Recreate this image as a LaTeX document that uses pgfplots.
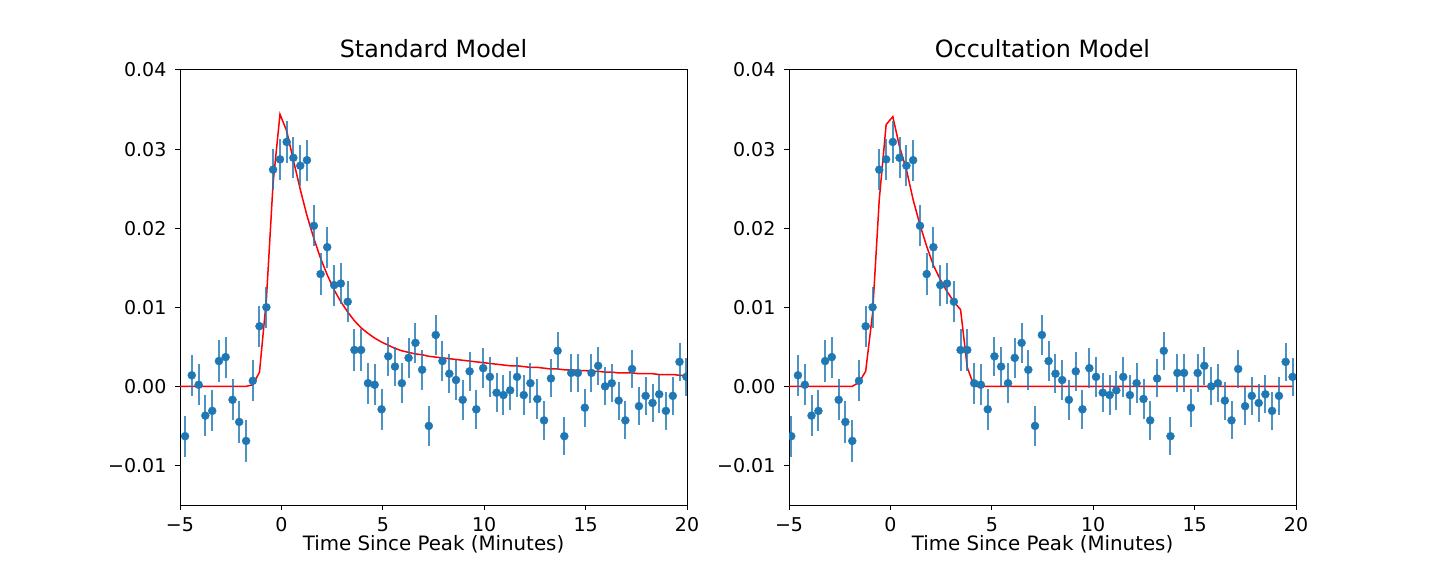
\documentclass[border=0pt]{standalone}
\usepackage{fontspec}
\setmainfont{DejaVu Sans}
\usepackage{pgfplots}
\pgfplotsset{compat=1.18}
\usepackage{pgfplotstable}
\definecolor{mplblue}{HTML}{1F77B4}

% x: time in standard panel, xr: time in occultation panel
% y, e: flux and error; ms: standard model; mo: occultation model
\pgfplotstableread{
x      xr     y        e       ms      mo
-5.08  -5.22  -0.0066  0.0026  0.0000  0.0000
-4.75  -4.89  -0.0063  0.0026  0.0000  0.0000
-4.42  -4.56   0.0014  0.0026  0.0000  0.0000
-4.08  -4.22   0.0002  0.0026  0.0000  0.0000
-3.75  -3.89  -0.0037  0.0026  0.0000  0.0000
-3.41  -3.55  -0.0031  0.0026  0.0000  0.0000
-3.08  -3.22   0.0032  0.0026  0.0000  0.0000
-2.75  -2.89   0.0037  0.0026  0.0000  0.0000
-2.41  -2.55  -0.0017  0.0026  0.0000  0.0000
-2.08  -2.22  -0.0045  0.0026  0.0000  0.0000
-1.74  -1.88  -0.0069  0.0026  0.0000  0.0000
-1.41  -1.55   0.0007  0.0026  0.0002  0.0005
-1.08  -1.22   0.0076  0.0026  0.0018  0.0019
-0.74  -0.88   0.0100  0.0026  0.0110  0.0092
-0.41  -0.55   0.0274  0.0026  0.0257  0.0236
-0.07  -0.21   0.0287  0.0026  0.0344  0.0331
 0.26   0.12   0.0309  0.0026  0.0323  0.0341
 0.59   0.45   0.0289  0.0026  0.0286  0.0303
 0.93   0.79   0.0279  0.0026  0.0249  0.0274
 1.26   1.12   0.0286  0.0026  0.0216  0.0236
 1.60   1.46   0.0203  0.0026  0.0187  0.0204
 1.93   1.79   0.0142  0.0026  0.0162  0.0177
 2.26   2.12   0.0176  0.0026  0.0141  0.0153
 2.60   2.46   0.0128  0.0026  0.0122  0.0135
 2.93   2.79   0.0130  0.0026  0.0107  0.0120
 3.27   3.13   0.0107  0.0026  0.0094  0.0107
 3.60   3.46   0.0046  0.0026  0.0083  0.0097
 3.93   3.79   0.0046  0.0026  0.0074  0.0024
 4.27   4.13   0.0004  0.0026  0.0067  0.0000
 4.60   4.46   0.0002  0.0026  0.0061  0.0000
 4.94   4.80  -0.0029  0.0026  0.0056  0.0000
 5.27   5.13   0.0038  0.0025  0.0052  0.0000
 5.60   5.46   0.0025  0.0025  0.0048  0.0000
 5.94   5.80   0.0004  0.0025  0.0045  0.0000
 6.27   6.13   0.0036  0.0025  0.0043  0.0000
 6.61   6.47   0.0055  0.0025  0.0041  0.0000
 6.94   6.80   0.0021  0.0025  0.0040  0.0000
 7.27   7.13  -0.0050  0.0025  0.0038  0.0000
 7.61   7.47   0.0065  0.0025  0.0037  0.0000
 7.94   7.80   0.0032  0.0025  0.0036  0.0000
 8.28   8.14   0.0016  0.0025  0.0035  0.0000
 8.61   8.47   0.0008  0.0025  0.0034  0.0000
 8.94   8.80  -0.0017  0.0025  0.0033  0.0000
 9.28   9.14   0.0019  0.0025  0.0032  0.0000
 9.61   9.47  -0.0029  0.0025  0.0031  0.0000
 9.95   9.81   0.0023  0.0025  0.0030  0.0000
10.28  10.14   0.0012  0.0025  0.0029  0.0000
10.61  10.47  -0.0008  0.0025  0.0028  0.0000
10.95  10.81  -0.0011  0.0025  0.0027  0.0000
11.28  11.14  -0.0005  0.0025  0.0026  0.0000
11.62  11.48   0.0012  0.0025  0.0026  0.0000
11.95  11.81  -0.0011  0.0025  0.0025  0.0000
12.28  12.14   0.0004  0.0025  0.0024  0.0000
12.62  12.48  -0.0016  0.0025  0.0024  0.0000
12.95  12.81  -0.0043  0.0025  0.0023  0.0000
13.29  13.15   0.0010  0.0024  0.0022  0.0000
13.62  13.48   0.0045  0.0024  0.0022  0.0000
13.95  13.81  -0.0063  0.0024  0.0021  0.0000
14.29  14.15   0.0017  0.0024  0.0021  0.0000
14.62  14.48   0.0017  0.0024  0.0020  0.0000
14.96  14.82  -0.0027  0.0024  0.0020  0.0000
15.29  15.15   0.0017  0.0024  0.0019  0.0000
15.62  15.48   0.0026  0.0024  0.0019  0.0000
15.96  15.82   0.0000  0.0024  0.0018  0.0000
16.29  16.15   0.0004  0.0024  0.0018  0.0000
16.63  16.49  -0.0018  0.0024  0.0017  0.0000
16.96  16.82  -0.0043  0.0024  0.0017  0.0000
17.29  17.15   0.0022  0.0024  0.0017  0.0000
17.63  17.49  -0.0025  0.0024  0.0016  0.0000
17.96  17.82  -0.0012  0.0024  0.0016  0.0000
18.30  18.16  -0.0021  0.0024  0.0016  0.0000
18.63  18.49  -0.0010  0.0024  0.0015  0.0000
18.96  18.82  -0.0031  0.0024  0.0015  0.0000
19.30  19.16  -0.0012  0.0024  0.0015  0.0000
19.63  19.49   0.0031  0.0024  0.0014  0.0000
19.97  19.83   0.0012  0.0024  0.0014  0.0000
}\flare

\begin{document}
\fontsize{19.8}{23.8}\selectfont
\begin{tikzpicture}
\path[use as bounding box] (0,0) rectangle (1440pt,576pt);
\pgfplotsset{
  panel/.style={
    at={(#1,71pt)}, anchor=south west,
    scale only axis, width=507pt, height=435pt,
    xmin=-5, xmax=20, ymin=-0.015, ymax=0.04,
    scaled x ticks=false, scaled y ticks=false,
    xtick={-5,0,5,10,15,20},
    xticklabels={−5,0,5,10,15,20},
    ytick={-0.01,0,0.01,0.02,0.03,0.04},
    yticklabels={−0.01,0.00,0.01,0.02,0.03,0.04},
    xtick pos=left, ytick pos=left,
    tick align=outside, major tick length=4.9pt,
    tick style={black, line width=1pt},
    axis line style={black, line width=1pt},
    tick label style={font=\fontsize{19}{23}\selectfont},
    xticklabel style={anchor=base, inner sep=0pt, yshift=-22pt},
    yticklabel style={anchor=east, inner sep=0pt, xshift=-8.5pt},
    xlabel={Time Since Peak (Minutes)},
    xlabel style={at={(axis description cs:0.5,0)}, anchor=base, inner sep=0pt, yshift=-45pt},
    title style={at={(axis description cs:0.5,1)}, anchor=base, inner sep=0pt, yshift=6.5pt,
      font=\fontsize{23.8}{28}\selectfont},
    clip marker paths=true,
  },
  data/.style={only marks, mark=*, mark size=4pt, color=mplblue,
    error bars/.cd, y dir=both, y explicit, error mark=none,
    error bar style={line width=2pt, mplblue, opacity=0.8}},
}
\begin{axis}[panel=180pt, title={Standard Model}]
\addplot[red, line width=1.5pt] table[x=x, y=ms] {\flare};
\addplot[data] table[x=x, y=y, y error=e] {\flare};
\end{axis}
\begin{axis}[panel=789pt, title={Occultation Model}]
\addplot[red, line width=1.5pt] table[x=xr, y=mo] {\flare};
\addplot[data] table[x=xr, y=y, y error=e] {\flare};
\end{axis}
\end{tikzpicture}
\end{document}
